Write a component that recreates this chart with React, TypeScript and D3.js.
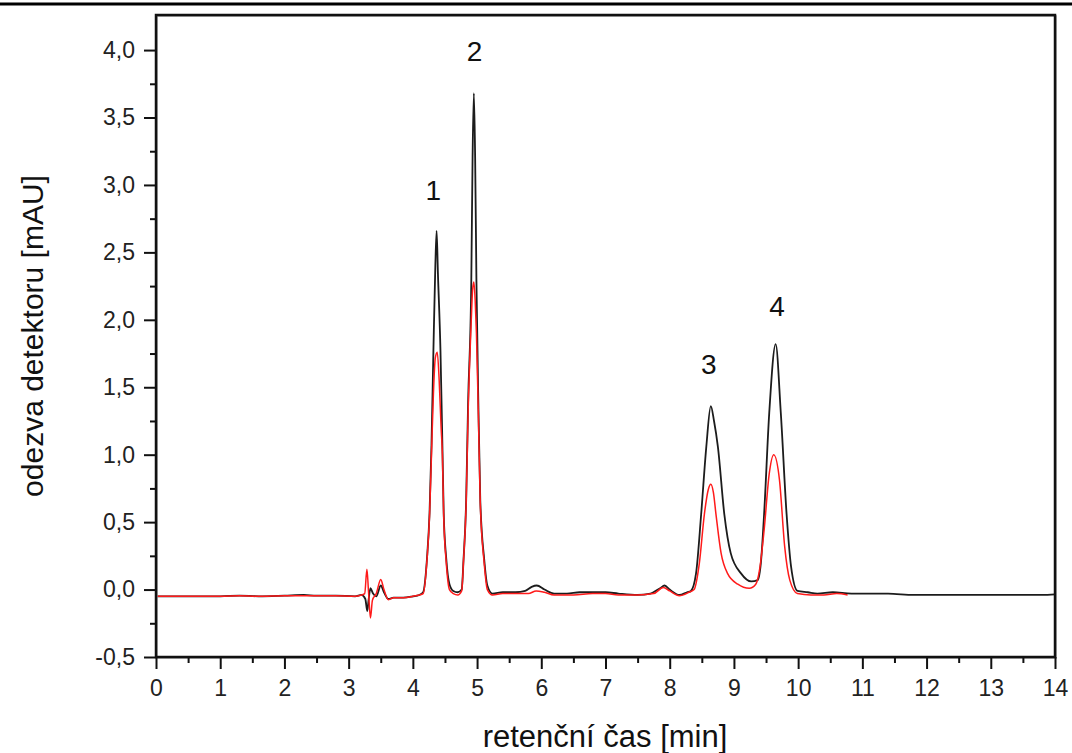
import React, { useEffect, useRef } from 'react';
import * as d3 from 'd3';

// retention time [min] and detector response [mAU]
const blackTime = [
  0, 0.5, 1.0, 1.3, 1.6, 2.0, 2.3, 2.5, 2.8, 3.1, 3.2, 3.26, 3.29, 3.31, 3.34, 3.38, 3.43, 3.5, 3.55, 3.62,
  3.7, 3.85, 4.0, 4.1, 4.16, 4.22, 4.26, 4.29, 4.32, 4.35, 4.37, 4.39, 4.43, 4.46, 4.48, 4.52, 4.57, 4.63,
  4.7, 4.76, 4.79, 4.83, 4.86, 4.91, 4.93, 4.95, 4.97, 4.99, 5.02, 5.05, 5.11, 5.16, 5.24, 5.4, 5.6, 5.75,
  5.85, 5.93, 6.05, 6.2, 6.4, 6.6, 6.8, 7.0, 7.2, 7.5, 7.7, 7.85, 7.92, 8.0, 8.15, 8.27, 8.33, 8.41, 8.49,
  8.57, 8.64, 8.69, 8.75, 8.85, 8.95, 9.11, 9.27, 9.37, 9.42, 9.47, 9.55, 9.65, 9.73, 9.82, 9.89, 9.99,
  10.15, 10.3, 10.54, 10.83, 11.0, 11.4, 11.8, 12.2, 12.6, 13.0, 13.4, 13.8, 14.0,
];
const blackSignal = [
  -0.05, -0.05, -0.05, -0.045, -0.05, -0.045, -0.04, -0.045, -0.045, -0.05, -0.04, -0.07, -0.16, -0.08, 0.01, -0.03, -0.05, 0.03, -0.02, -0.07,
  -0.06, -0.06, -0.05, -0.04, -0.02, 0.23, 0.57, 1.07, 1.77, 2.4, 2.66, 2.35, 1.77, 1.07, 0.57, 0.23, 0.04, -0.01,
  -0.02, 0.0, 0.23, 0.66, 1.38, 2.29, 3.2, 3.68, 3.2, 2.29, 1.38, 0.66, 0.23, 0.03, -0.03, -0.02, -0.02, -0.01,
  0.02, 0.03, 0.0, -0.03, -0.03, -0.02, -0.02, -0.02, -0.03, -0.04, -0.03, 0.01, 0.03, 0.0, -0.04, -0.02, -0.01, 0.12, 0.56,
  1.06, 1.36, 1.25, 1.06, 0.56, 0.27, 0.12, 0.06, 0.07, 0.2, 0.56, 1.31, 1.82, 1.31, 0.56, 0.17, -0.01,
  -0.02, -0.03, -0.02, -0.03, -0.03, -0.03, -0.04, -0.04, -0.04, -0.04, -0.04, -0.04, -0.035,
];

const redTime = [
  0, 0.5, 1.0, 1.3, 1.6, 2.0, 2.5, 2.8, 3.1, 3.2, 3.25, 3.285, 3.31, 3.34, 3.37, 3.43, 3.5, 3.55, 3.62,
  3.7, 3.85, 4.0, 4.1, 4.16, 4.22, 4.26, 4.29, 4.32, 4.35, 4.38, 4.41, 4.44, 4.46, 4.48, 4.52, 4.57, 4.63,
  4.7, 4.76, 4.79, 4.83, 4.86, 4.91, 4.93, 4.95, 4.97, 4.99, 5.02, 5.05, 5.11, 5.16, 5.24, 5.4, 5.6, 5.8,
  5.92, 6.05, 6.2, 6.5, 6.8, 7.0, 7.2, 7.5, 7.75, 7.9, 8.0, 8.15, 8.3, 8.38, 8.46, 8.54, 8.6, 8.64, 8.68,
  8.72, 8.8, 8.9, 9.06, 9.24, 9.34, 9.4, 9.47, 9.55, 9.62, 9.71, 9.79, 9.87, 9.99, 10.2, 10.4, 10.6, 10.77,
];
const redSignal = [
  -0.05, -0.05, -0.05, -0.045, -0.05, -0.045, -0.045, -0.045, -0.05, -0.04, -0.03, 0.15, -0.02, -0.21, -0.08, -0.03, 0.075, 0.0, -0.075,
  -0.06, -0.06, -0.05, -0.04, -0.03, 0.22, 0.55, 1.0, 1.45, 1.72, 1.76, 1.55, 1.2, 1.0, 0.55, 0.2, 0.0, -0.03,
  -0.04, -0.01, 0.22, 0.64, 1.3, 2.0, 2.22, 2.28, 2.15, 1.9, 1.3, 0.64, 0.2, 0.0, -0.04, -0.03, -0.03, -0.03,
  -0.01, -0.02, -0.04, -0.04, -0.03, -0.03, -0.04, -0.04, -0.03, 0.015, -0.01, -0.045, -0.02, 0.0, 0.19, 0.56, 0.74, 0.78, 0.72,
  0.56, 0.27, 0.12, 0.04, 0.01, 0.04, 0.15, 0.44, 0.86, 1.0, 0.81, 0.32, 0.07, -0.03, -0.04, -0.04, -0.03, -0.04,
];

const peakNames = ['1', '2', '3', '4'];
const peakLabelTime = [4.32, 4.96, 8.61, 9.67];
const peakLabelSignal = [2.96, 3.99, 1.67, 2.1];

const xMajorTicks = [0, 1, 2, 3, 4, 5, 6, 7, 8, 9, 10, 11, 12, 13, 14];
const xMinorTicks = [0.5, 1.5, 2.5, 3.5, 4.5, 5.5, 6.5, 7.5, 8.5, 9.5, 10.5, 11.5, 12.5, 13.5];
const yMajorTicks = [-0.5, 0, 0.5, 1.0, 1.5, 2.0, 2.5, 3.0, 3.5, 4.0];
const yMinorTicks = [-0.25, 0.25, 0.75, 1.25, 1.75, 2.25, 2.75, 3.25, 3.75];

const xTitle = 'retenční čas [min]';
const yTitle = 'odezva detektoru [mAU]';

const W = 1072;
const H = 753;
const FONT = '"Liberation Sans", Arial, sans-serif';

const App = () => {
  const ref = useRef<SVGSVGElement>(null);

  useEffect(() => {
    const svg = d3.select(ref.current);
    svg.selectAll('*').remove();

    const left = 156, right = 1055, top = 15, bottom = 657;

    const x = d3.scaleLinear().domain([0, 14]).range([left, right]);
    const y = d3.scaleLinear().domain([-0.5, 4.26]).range([bottom, top]);
    // comma decimals, plain hyphen for the minus sign
    const fmt = (v: number) => v.toFixed(1).replace('.', ',');

    // rule across the top of the page
    svg.append('line')
      .attr('x1', 0).attr('x2', W).attr('y1', 4).attr('y2', 4)
      .attr('stroke', '#000').attr('stroke-width', 3);

    // traces
    const g = svg.append('g');
    const line = d3.line<[number, number]>()
      .x(d => x(d[0]))
      .y(d => y(d[1]))
      .curve(d3.curveMonotoneX);

    const black: [number, number][] = blackTime.map((t, i) => [t, blackSignal[i]]);
    const red: [number, number][] = redTime.map((t, i) => [t, redSignal[i]]);

    g.append('path').datum(black)
      .attr('d', line).attr('fill', 'none')
      .attr('stroke', '#1c1c1c').attr('stroke-width', 1.8);
    g.append('path').datum(red)
      .attr('d', line).attr('fill', 'none')
      .attr('stroke', '#ff1a1a').attr('stroke-width', 1.5);

    // frame (grey shadow + black)
    svg.append('rect')
      .attr('x', left + 1).attr('y', top + 1)
      .attr('width', right - left).attr('height', bottom - top)
      .attr('fill', 'none').attr('stroke', '#999').attr('stroke-width', 1.5);
    svg.append('rect')
      .attr('x', left).attr('y', top)
      .attr('width', right - left).attr('height', bottom - top)
      .attr('fill', 'none').attr('stroke', '#111').attr('stroke-width', 2.5);

    // axes
    const styleAxis = (sel: any) => {
      sel.select('.domain').remove();
      sel.selectAll('line').attr('stroke', '#111').attr('stroke-width', 2);
      sel.selectAll('text').attr('font-family', FONT).attr('font-size', 23).attr('fill', '#222');
    };

    svg.append('g')
      .attr('transform', `translate(0, ${bottom})`)
      .call(d3.axisBottom(x).tickValues(xMajorTicks).tickSize(12).tickPadding(11).tickFormat(d => String(d)))
      .call(styleAxis);
    svg.append('g')
      .attr('transform', `translate(0, ${bottom})`)
      .call(d3.axisBottom(x).tickValues(xMinorTicks).tickSize(6).tickFormat(() => ''))
      .call(styleAxis);

    svg.append('g')
      .attr('transform', `translate(${left}, 0)`)
      .call(d3.axisLeft(y).tickValues(yMajorTicks).tickSize(12).tickPadding(9).tickFormat(d => fmt(+d)))
      .call(styleAxis);
    svg.append('g')
      .attr('transform', `translate(${left}, 0)`)
      .call(d3.axisLeft(y).tickValues(yMinorTicks).tickSize(6).tickFormat(() => ''))
      .call(styleAxis);

    // peak numbers
    svg.append('g').selectAll('text')
      .data(peakNames)
      .enter().append('text')
      .attr('x', (d, i) => x(peakLabelTime[i]))
      .attr('y', (d, i) => y(peakLabelSignal[i]))
      .attr('text-anchor', 'middle')
      .attr('dominant-baseline', 'central')
      .attr('font-family', FONT)
      .attr('font-size', 28)
      .attr('fill', '#111')
      .text(d => d);

    // axis titles
    svg.append('text')
      .attr('x', 605).attr('y', 747)
      .attr('text-anchor', 'middle')
      .attr('font-family', FONT).attr('font-size', 31).attr('fill', '#111')
      .text(xTitle);

    svg.append('text')
      .attr('transform', 'translate(32, 336) rotate(-90)')
      .attr('text-anchor', 'middle')
      .attr('dominant-baseline', 'central')
      .attr('font-family', FONT).attr('font-size', 30).attr('fill', '#111')
      .text(yTitle);
  }, []);

  return (
    <svg
      ref={ref}
      width={W}
      height={H}
      style={{ position: 'absolute', left: 0, top: 0, background: '#fff' }}
    />
  );
};

export default App;
